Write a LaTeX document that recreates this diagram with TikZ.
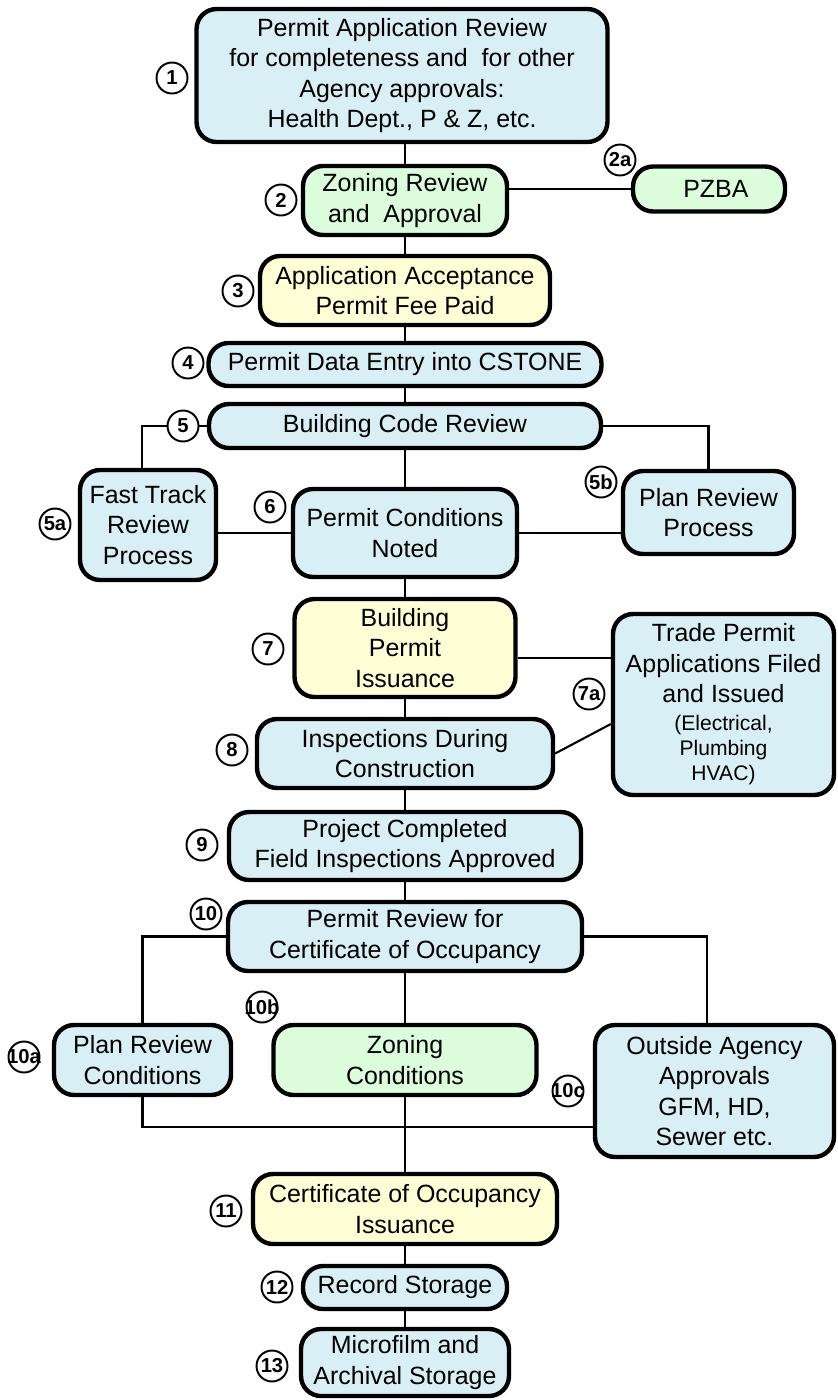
\documentclass[tikz,border=0pt]{standalone}
\usepackage{fontspec}
\setmainfont{Liberation Sans}
\definecolor{boxblue}{RGB}{216,239,245}
\definecolor{boxgreen}{RGB}{219,253,219}
\definecolor{boxyellow}{RGB}{255,255,214}
\newcommand\tradesize{\fontsize{12}{14}\selectfont}

\begin{document}
\begin{tikzpicture}[x=0.02cm,y=-0.02cm,
    box/.style={draw,line width=2.5pt,rounded corners=0.4cm,fill=boxblue,align=center,inner sep=0pt,font=\fontsize{14.2}{17.2}\selectfont},
    zonebox/.style={box,fill=boxgreen},
    feebox/.style={box,fill=boxyellow},
    num/.style={circle,draw,line width=1.1pt,fill=white,minimum size=0.62cm,inner sep=0pt,font=\bfseries\fontsize{11.5}{11.5}\selectfont},
    link/.style={line width=1.2pt}]
    \useasboundingbox (0,0) rectangle (838,1400);
    % Main column
    \node[box,minimum width=8.22cm,minimum height=2.66cm] (appreview) at (402,75.5) {Permit Application Review\\ for completeness and\ \ for other\\Agency approvals:\\Health Dept., P \& Z, etc.};
    \node[zonebox,minimum width=4.08cm,minimum height=1.38cm] (zoning) at (405,200.5) {Zoning Review\\and\ \ Approval};
    \node[zonebox,minimum width=3.04cm,minimum height=0.9cm] (pzba) at (709,189) {\ \ PZBA};
    \node[feebox,minimum width=5.8cm,minimum height=1.38cm] (accept) at (405,290.5) {Application Acceptance\\Permit Fee Paid};
    \node[box,minimum width=7.86cm,minimum height=0.86cm] (entry) at (405,364.5) {Permit Data Entry into CSTONE};
    \node[box,minimum width=7.84cm,minimum height=0.88cm] (codereview) at (405,426) {Building Code Review};
    \node[box,minimum width=2.72cm,minimum height=2.2cm] (fasttrack) at (148,525) {Fast Track\\Review\\Process};
    \node[box,minimum width=3.42cm,minimum height=1.66cm] (planreview) at (708.5,512.5) {Plan Review\\Process};
    \node[box,minimum width=4.48cm,minimum height=1.76cm] (conditions) at (405,533) {Permit Conditions\\Noted};
    \node[feebox,minimum width=4.42cm,minimum height=1.96cm] (issuance) at (405,648) {Building\\Permit\\Issuance};
    \node[box,minimum width=4.42cm,minimum height=3.62cm] (trade) at (723.5,704.5) {Trade Permit\\Applications Filed\\and Issued\\[-1pt]\tradesize (Electrical,\\[-3pt]\tradesize Plumbing\\[-3pt]\tradesize HVAC)};
    \node[box,minimum width=5.92cm,minimum height=1.38cm] (inspect) at (405,753.5) {Inspections During\\Construction};
    \node[box,minimum width=7.04cm,minimum height=1.36cm] (completed) at (405,846) {Project Completed\\Field Inspections Approved};
    \node[box,minimum width=7.08cm,minimum height=1.38cm] (coreview) at (405,936.5) {Permit Review for\\Certificate of Occupancy};
    \node[box,minimum width=3.54cm,minimum height=1.4cm] (planconds) at (142.5,1060) {Plan Review\\Conditions};
    \node[zonebox,minimum width=5.26cm,minimum height=1.4cm] (zoneconds) at (405,1060) {Zoning\\Conditions};
    \node[box,minimum width=4.78cm,minimum height=2.64cm] (outside) at (714.5,1091) {Outside Agency\\Approvals\\GFM, HD,\\Sewer etc.};
    \node[feebox,minimum width=6.08cm,minimum height=1.4cm] (coissue) at (405,1209) {Certificate of Occupancy\\Issuance};
    \node[box,minimum width=4.08cm,minimum height=0.86cm] (records) at (405,1287.5) {Record Storage};
    \node[box,minimum width=4.16cm,minimum height=1.34cm] (archive) at (405,1362.5) {Microfilm and\\Archival Storage};

    % Connectors
    \draw[link] (appreview.south -| zoning.north) -- (zoning.north);
    \draw[link] (zoning.south) -- (accept.north);
    \draw[link] (accept.south) -- (entry.north);
    \draw[link] (entry.south) -- (codereview.north);
    \draw[link] (codereview.south) -- (conditions.north);
    \draw[link] (conditions.south) -- (issuance.north);
    \draw[link] (issuance.south) -- (inspect.north);
    \draw[link] (inspect.south) -- (completed.north);
    \draw[link] (completed.south) -- (coreview.north);
    \draw[link] (coreview.south) -- (zoneconds.north);
    \draw[link] (zoneconds.south) -- (coissue.north);
    \draw[link] (coissue.south) -- (records.north);
    \draw[link] (records.south) -- (archive.north);
    \draw[link] (zoning.east |- pzba.west) -- (pzba.west);
    \draw[link] (codereview.west) -| ([xshift=-0.12cm]fasttrack.north);
    \draw[link] (codereview.east) -| (planreview.north);
    \draw[link] (fasttrack.east |- conditions.west) -- (conditions.west);
    \draw[link] (conditions.east) -- (conditions.east -| planreview.west);
    \draw[link] ([yshift=-0.2cm]issuance.east) -- ([yshift=-0.2cm]issuance.east -| trade.west);
    \draw[link] (inspect.east) -- ([yshift=-0.39cm]trade.west);
    \draw[link] (coreview.west) -| (planconds.north);
    \draw[link] (coreview.east) -| ([xshift=-0.15cm]outside.north);
    \coordinate (bus) at (405,1127);
    \draw[link] (planconds.south) |- (bus -| outside.west);

    % Step numbers
    \foreach \lbl/\x/\y in {1/172/78, 2/281/200, 2a/620/160, 3/238/291, 4/188/363,
        5/183/426, 5a/55/524, 5b/601/482, 6/270/507, 7/268/649, 7a/589/694,
        8/232/750, 9/202/845, 10/206/914, 10a/24/1057, 10b/262/1007,
        10c/568/1091, 11/226/1211, 12/277/1287, 13/272/1366}
        \node[num] (n\lbl) at (\x,\y) {\makebox[0pt]{\lbl}};
\end{tikzpicture}
\end{document}
